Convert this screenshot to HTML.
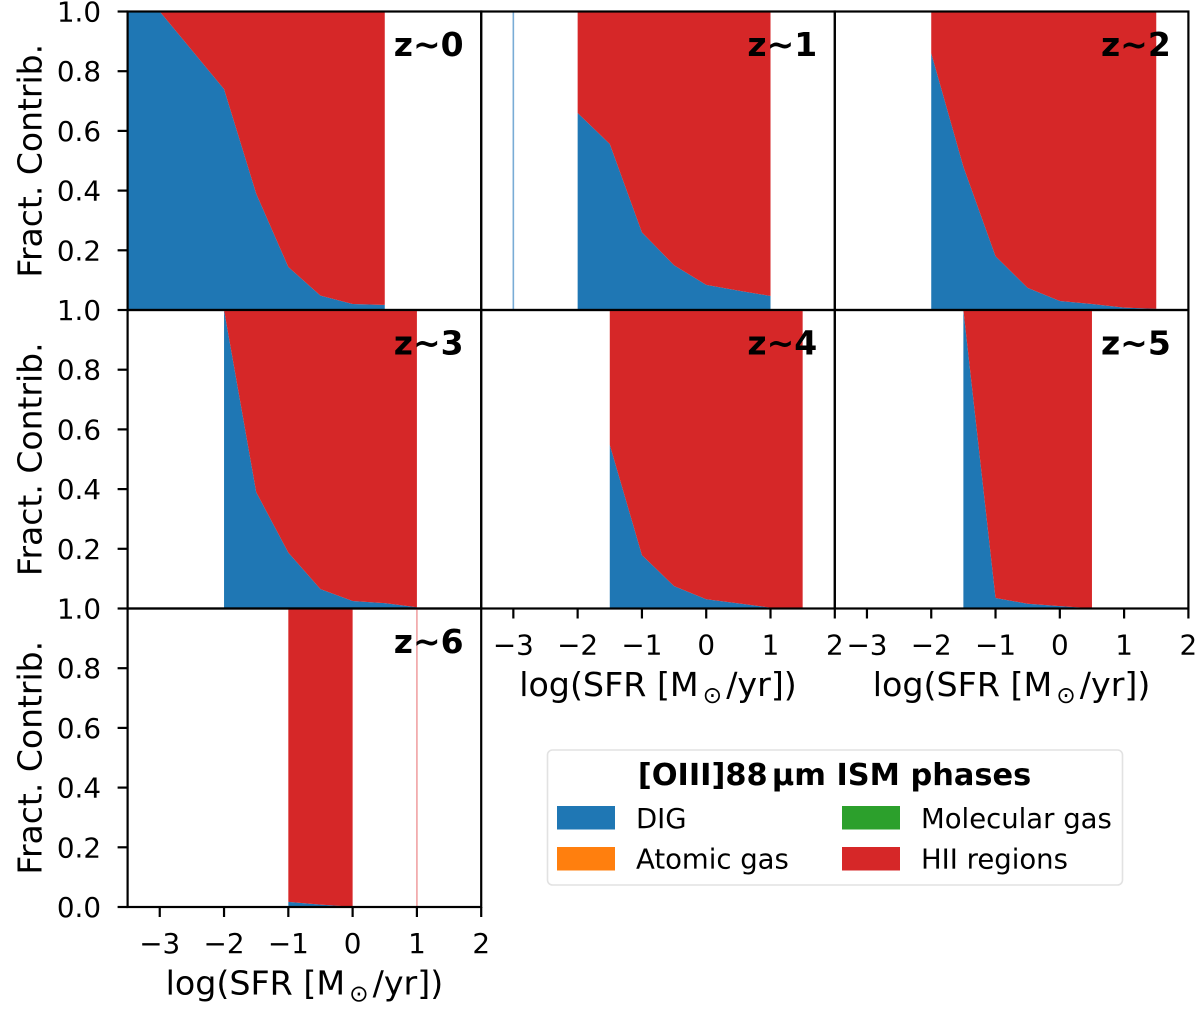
<!DOCTYPE html>
<html lang="en">
<head>
<meta charset="utf-8">
<title>[OIII]88 µm ISM phases fractional contribution</title>
<style>
html,body{margin:0;padding:0;background:#fff}
svg{display:block}
text{font-family:"DejaVu Sans","Liberation Sans",sans-serif;fill:#000}
</style>
</head>
<body>
<svg id="chart" xmlns="http://www.w3.org/2000/svg" width="1200" height="1010" viewBox="0 0 1200 1010">
  <g id="panels"></g>
  <g id="legend">
    <rect x="547.5" y="750" width="575" height="135" rx="5" ry="5" fill="#fff" stroke="#e2e2e2" stroke-width="1.6"/>
    <text x="834.5" y="785" text-anchor="middle" font-size="30.4" font-weight="bold">[OIII]88<tspan font-size="12"> </tspan>µm ISM phases</text>
    <rect x="557" y="806" width="58" height="23.5" fill="#1f77b4"/>
    <text x="636" y="828" font-size="27.5">DIG</text>
    <rect x="557" y="847" width="58" height="23.5" fill="#ff7f0e"/>
    <text x="636" y="868.5" font-size="27.5">Atomic gas</text>
    <rect x="842" y="806" width="58" height="23.5" fill="#2ca02c"/>
    <text x="921" y="828" font-size="27.5">Molecular gas</text>
    <rect x="842" y="847" width="58" height="23.5" fill="#d62728"/>
    <text x="921" y="868.5" font-size="27.5">HII regions</text>
  </g>
</svg>
<script>
// ---- chart data ----
const xTickValues = [-3, -2, -1, 0, 1, 2];
const xTickLabels = ['\u22123', '\u22122', '\u22121', '0', '1', '2'];
const yTickValues = [0, 0.2, 0.4, 0.6, 0.8, 1];
const yTickLabels = ['0.0', '0.2', '0.4', '0.6', '0.8', '1.0'];
const panelLabels = ['z~0', 'z~1', 'z~2', 'z~3', 'z~4', 'z~5', 'z~6'];

const sfrZ0 = [-3.5, -3, -2.5, -2, -1.5, -1, -0.5, 0, 0.5];
const digZ0 = [1, 1, 0.87, 0.74, 0.39, 0.144, 0.048, 0.02, 0.017];
const hiiZ0 = [0, 0, 0.13, 0.26, 0.61, 0.856, 0.952, 0.98, 0.983];

const sfrZ1 = [-2, -1.5, -1, -0.5, 0, 0.5, 1];
const digZ1 = [0.66, 0.556, 0.26, 0.15, 0.084, 0.065, 0.047];
const hiiZ1 = [0.34, 0.444, 0.74, 0.85, 0.916, 0.935, 0.953];

const sfrZ2 = [-2, -1.5, -1, -0.5, 0, 0.5, 1, 1.5];
const digZ2 = [0.86, 0.48, 0.18, 0.074, 0.03, 0.02, 0.008, 0.004];
const hiiZ2 = [0.14, 0.52, 0.82, 0.926, 0.97, 0.98, 0.992, 0.996];

const sfrZ3 = [-2, -1.5, -1, -0.5, 0, 0.5, 1];
const digZ3 = [1, 0.39, 0.187, 0.065, 0.025, 0.018, 0.004];
const hiiZ3 = [0, 0.61, 0.813, 0.935, 0.975, 0.982, 0.996];

const sfrZ4 = [-1.5, -1, -0.5, 0, 0.5, 1, 1.5];
const digZ4 = [0.548, 0.179, 0.075, 0.031, 0.017, 0.003, 0.001];
const hiiZ4 = [0.452, 0.821, 0.925, 0.969, 0.983, 0.997, 0.999];

const sfrZ5 = [-1.5, -1, -0.5, 0, 0.5];
const digZ5 = [1, 0.035, 0.016, 0.008, 0.001];
const hiiZ5 = [0, 0.965, 0.984, 0.992, 0.999];

const sfrZ6 = [-1, -0.5, 0];
const digZ6 = [0.017, 0.008, 0.001];
const hiiZ6 = [0.983, 0.992, 0.999];

// Single-bin slivers: zero-width areas that show up as hairlines
const sliverDigSfrZ1 = [-3];
const sliverDigValZ1 = [1];
const sliverHiiSfrZ6 = [1];
const sliverHiiValZ6 = [1];

const sfrSeries = [sfrZ0, sfrZ1, sfrZ2, sfrZ3, sfrZ4, sfrZ5, sfrZ6];
const digSeries = [digZ0, digZ1, digZ2, digZ3, digZ4, digZ5, digZ6];
const hiiSeries = [hiiZ0, hiiZ1, hiiZ2, hiiZ3, hiiZ4, hiiZ5, hiiZ6];

// ---- axis functions ----
const NS = 'http://www.w3.org/2000/svg';
const PANEL_W = 353.6, PANEL_H = 298.5, ORIGIN_X = 127.6, ORIGIN_Y = 11.5;
const X_MIN = -3.5, X_MAX = 2;
function panelCol(i) { return i % 3; }
function panelRow(i) { return Math.floor(i / 3); }
function panelLeft(i) { return ORIGIN_X + panelCol(i) * PANEL_W; }
function panelTop(i) { return ORIGIN_Y + panelRow(i) * PANEL_H; }
function xScale(i, v) { return panelLeft(i) + (v - X_MIN) / (X_MAX - X_MIN) * PANEL_W; }
function yScale(i, v) { return panelTop(i) + PANEL_H - v * PANEL_H; }

function make(tag, attrs, parent, content) {
  const el = document.createElementNS(NS, tag);
  for (const k in attrs) el.setAttribute(k, attrs[k]);
  if (content !== undefined) el.textContent = content;
  parent.appendChild(el);
  return el;
}
function areaPoints(i, xs, lower, upper) {
  const top = xs.map((x, n) => xScale(i, x).toFixed(2) + ',' + yScale(i, upper[n]).toFixed(2));
  const bottom = xs.map((x, n) => xScale(i, x).toFixed(2) + ',' + yScale(i, lower[n]).toFixed(2)).reverse();
  return top.concat(bottom).join(' ');
}

const root = document.getElementById('panels');
const TICK = 10, AXIS_W = 2.2;

function drawPanel(i) {
  const xs = sfrSeries[i], dig = digSeries[i], hii = hiiSeries[i];
  const slug = 'z' + i;
  const g = make('g', {}, root);
  
  

  const zeros = xs.map(() => 0);
  const cum = dig.map((d, n) => d + hii[n]);

  const digArea = make('polygon', { points: areaPoints(i, xs, zeros, dig), fill: '#1f77b4' }, g);
  
  

  const hiiArea = make('polygon', { points: areaPoints(i, xs, dig, cum), fill: '#d62728' }, g);
  
  

  return g;
}

function drawSliver(i, sfr, val, color, name) {
  const g = root.children[i];
  sfr.forEach((s, n) => {
    const line = make('line', {
      x1: xScale(i, s), x2: xScale(i, s), y1: yScale(i, 0), y2: yScale(i, val[n]),
      stroke: color, 'stroke-width': 1.6
    }, g);
    
    
  });
}

function drawAxes(i) {
  const g = root.children[i];
  const L = panelLeft(i), T = panelTop(i), B = T + PANEL_H;
  const last = i >= 4;
  const slug = 'z' + i;

  const frame = make('rect', { x: L, y: T, width: PANEL_W, height: PANEL_H, fill: 'none', stroke: '#000', 'stroke-width': AXIS_W }, g);
  
  

  if (panelCol(i) === 0) {
    yTickValues.forEach((v, n) => {
      const y = yScale(i, v);
      if (v === 0 && i !== 6) return;
      const t = make('line', { x1: L - TICK, x2: L, y1: y, y2: y, stroke: '#000', 'stroke-width': AXIS_W }, g);
      
      
      const lab = make('text', { x: L - 26.5, y: y + 10, 'text-anchor': 'end', 'font-size': 27.8 }, g, yTickLabels[n]);
      
      
    });
    const cy = T + PANEL_H / 2;
    const yt = make('text', { x: 41.5, y: cy, 'text-anchor': 'middle', 'font-size': 33, transform: 'rotate(-90 41.5 ' + cy + ')' }, g, 'Fract. Contrib.');
    
    
  }

  if (last) {
    xTickValues.forEach((v, n) => {
      const x = xScale(i, v);
      const t = make('line', { x1: x, x2: x, y1: B, y2: B + TICK, stroke: '#000', 'stroke-width': AXIS_W }, g);
      
      
      const lab = make('text', { x: x, y: B + 46, 'text-anchor': 'middle', 'font-size': 27.8 }, g, xTickLabels[n]);
      
      
    });
    const xt = make('text', { x: L + PANEL_W / 2, y: B + 87.5, 'text-anchor': 'middle', 'font-size': 33.3 }, g);
    
    
    make('tspan', {}, xt, 'log(SFR [M');
    make('tspan', { 'font-size': 23.3, dy: 7, dx: 4 }, xt, '\u2299');
    make('tspan', { dy: -7, dx: 4 }, xt, '/yr])');
  }

  const z = make('text', { x: L + 336, y: T + 44.5, 'text-anchor': 'end', 'font-size': 33, 'font-weight': 'bold' }, g, panelLabels[i]);
  
  
}

panelLabels.forEach((_, i) => drawPanel(i));
drawSliver(1, sliverDigSfrZ1, sliverDigValZ1, '#79acd6', 'dig-sliver-z1');
drawSliver(6, sliverHiiSfrZ6, sliverHiiValZ6, '#f0a3a4', 'hii-sliver-z6');
panelLabels.forEach((_, i) => drawAxes(i));
</script>
</body>
</html>
